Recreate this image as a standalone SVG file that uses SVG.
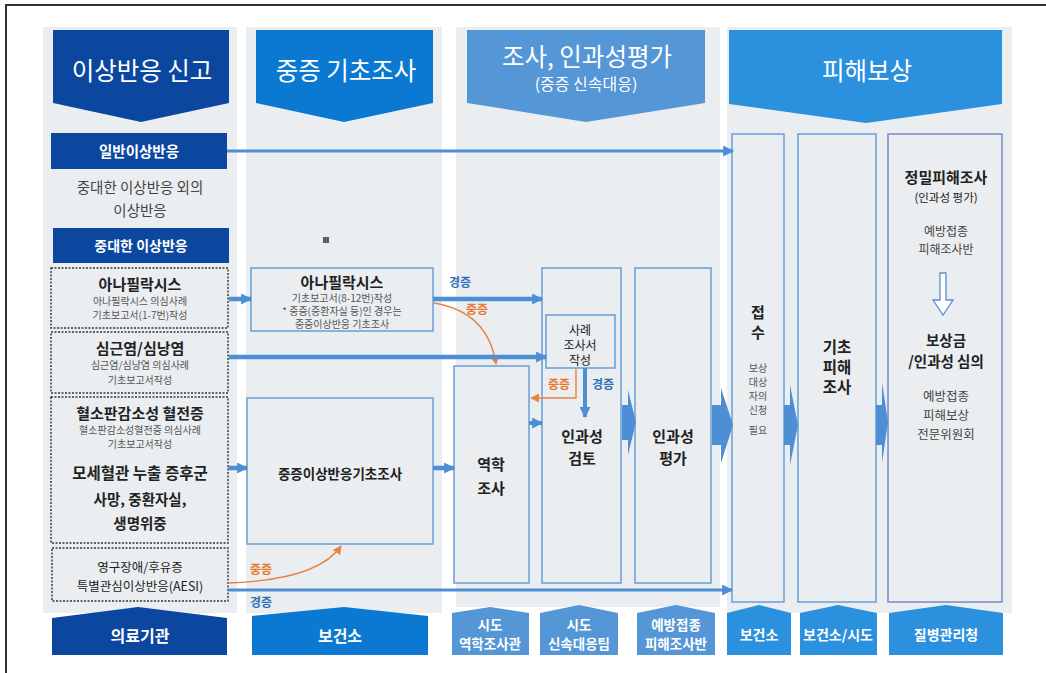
<svg xmlns="http://www.w3.org/2000/svg" width="1046" height="673" viewBox="0 0 1046 673">
<defs>
<style>
text{font-family:"Noto Sans CJK KR","Noto Sans",sans-serif;text-anchor:middle}
.bg{fill:#eaeef0}
.hd{fill:#fff;font-size:24.5px}
.ft{fill:#fff;font-weight:bold}
.bx{fill:#eaeef0;stroke:#6ea3d9;stroke-width:1.6}
.dt{fill:#eaeef0;stroke:#333;stroke-width:1.4;stroke-dasharray:2 1.5}
.b{font-weight:bold;fill:#222}
.s{fill:#555;font-size:10px}
.g{fill:#444}
.lb{fill:#2f6fba;font-weight:bold;font-size:12px}
.lo{fill:#e8762d;font-weight:bold;font-size:12px}
.ln{stroke:#4d8ed4;fill:none}
.or{stroke:#e8823f;fill:none;stroke-width:1.4}
.ch{fill:#4d8ed4}
</style>
<marker id="ab" viewBox="0 0 10 10" refX="9" refY="5" markerWidth="12" markerHeight="11" markerUnits="userSpaceOnUse" orient="auto"><path d="M0,0 L10,5 L0,10 z" fill="#4d8ed4"/></marker>
<marker id="ao" viewBox="0 0 10 10" refX="9" refY="5" markerWidth="9" markerHeight="9" markerUnits="userSpaceOnUse" orient="auto"><path d="M0,0 L10,5 L0,10 z" fill="#e8823f"/></marker>
</defs>
<rect width="1046" height="673" fill="#fff"/>
<path d="M6,673 V5 H1046" fill="none" stroke="#333" stroke-width="2"/>

<!-- column backgrounds -->
<rect class="bg" x="43" y="27" width="194" height="586"/>
<rect class="bg" x="246" y="27" width="196" height="586"/>
<rect class="bg" x="456" y="27" width="264" height="580"/>
<rect class="bg" x="727" y="27" width="285" height="586"/>

<!-- headers -->
<g id="hdr1"><polygon points="53,30 229,30 229,103 141,122 53,103" fill="#0c479f"/><text class="hd" x="142" y="80">이상반응 신고</text></g>
<g id="hdr2"><polygon points="256,30 433,30 433,103 344,122 256,103" fill="#0b78d1"/><text class="hd" x="346" y="80">중증 기초조사</text></g>
<g id="hdr3"><polygon points="467,30 705,30 705,103 586,122 467,103" fill="#5596d6"/><text class="hd" x="587" y="66">조사, 인과성평가</text><text x="586" y="90" fill="#fff" font-size="16">(중증 신속대응)</text></g>
<g id="hdr4"><polygon points="729,30 1002,30 1002,104 866,123 729,104" fill="#2b90dd"/><text class="hd" x="867" y="80">피해보상</text></g>

<!-- column 1 -->
<g id="n-general"><rect x="51" y="133" width="176" height="36" fill="#0c479f"/><text x="139" y="157" fill="#fff" font-weight="bold" font-size="14.5">일반이상반응</text></g>
<g id="n-nonserious"><text class="g" x="140" y="193" font-size="14.5">중대한 이상반응 외의</text><text class="g" x="140" y="216" font-size="14.5">이상반응</text></g>
<g id="n-serious"><rect x="53" y="228" width="176" height="35" fill="#0c479f"/><text x="141" y="251" fill="#fff" font-weight="bold" font-size="14">중대한 이상반응</text></g>
<g id="n-ana1"><rect class="dt" x="51" y="268" width="177" height="60"/><text class="b" x="140" y="290" font-size="15">아나필락시스</text><text class="s" x="140" y="305">아나필락시스 의심사례</text><text class="s" x="140" y="319">기초보고서(1-7번)작성</text></g>
<g id="n-myo"><rect class="dt" x="51" y="332" width="177" height="61"/><text class="b" x="140" y="354" font-size="15">심근염/심낭염</text><text class="s" x="140" y="369">심근염/심낭염 의심사례</text><text class="s" x="140" y="384">기초보고서작성</text></g>
<g id="n-tts"><rect class="dt" x="51" y="397" width="177" height="146"/><text class="b" x="140" y="419" font-size="15">혈소판감소성 혈전증</text><text class="s" x="140" y="434">혈소판감소성혈전증 의심사례</text><text class="s" x="140" y="448">기초보고서작성</text><text class="b" x="140" y="479" font-size="15.5">모세혈관 누출 증후군</text><text class="b" x="140" y="505" font-size="14.5">사망, 중환자실,</text><text class="b" x="140" y="529" font-size="14.5">생명위중</text></g>
<g id="n-aesi"><rect class="dt" x="52" y="548" width="176" height="53"/><text x="140" y="572" font-size="12.5" fill="#222">영구장애/후유증</text><text x="140" y="591" font-size="12.5" fill="#222">특별관심이상반응(AESI)</text></g>
<g id="f-1"><polygon points="52,655 52,618 138,607 227,618 227,655" fill="#0c479f"/><text class="ft" x="140" y="642" font-size="16">의료기관</text></g>

<!-- column 2 -->
<rect x="323" y="237" width="6" height="6" fill="#55606e"/>
<g id="n-ana2"><rect class="bx" x="251" y="268" width="182" height="63"/><text class="b" x="342" y="288" font-size="15">아나필락시스</text><text class="s" x="342" y="302">기초보고서(8-12번)작성</text><text class="s" x="342" y="315">* 중증(중환자실 등)인 경우는</text><text class="s" x="342" y="328">중증이상반응 기초조사</text></g>
<g id="n-basic"><rect class="bx" x="247" y="398" width="186" height="146"/><text class="b" x="340" y="479" font-size="13.5">중증이상반응기초조사</text></g>
<g id="f-2"><polygon points="252,655 252,616 344,607 428,616 428,655" fill="#0b78d1"/><text class="ft" x="340" y="642" font-size="16">보건소</text></g>

<!-- column 3 -->
<g id="n-epi"><rect class="bx" x="454" y="366" width="75" height="217"/><text class="b" x="491" y="470" font-size="15">역학</text><text class="b" x="491" y="494" font-size="15">조사</text></g>
<g id="n-review"><rect class="bx" x="542" y="268" width="79" height="315"/><text class="b" x="582" y="442" font-size="15">인과성</text><text class="b" x="582" y="464" font-size="15">검토</text></g>
<g id="n-case"><rect class="bx" x="546" y="315" width="69" height="53"/><text x="580" y="335" font-size="12" fill="#222">사례</text><text x="580" y="350" font-size="12" fill="#222">조사서</text><text x="580" y="365" font-size="12" fill="#222">작성</text></g>
<g id="n-eval"><rect class="bx" x="635" y="268" width="76" height="315"/><text class="b" x="673" y="442" font-size="15">인과성</text><text class="b" x="673" y="464" font-size="15">평가</text></g>
<g id="f-3a"><polygon points="452,655 452,613 490,607 529,613 529,655" fill="#5596d6"/><text class="ft" x="490" y="630" font-size="13.5">시도</text><text class="ft" x="490" y="649" font-size="13.5">역학조사관</text></g>
<g id="f-3b"><polygon points="540,655 540,613 579,605 618,613 618,655" fill="#5596d6"/><text class="ft" x="579" y="630" font-size="13.5">시도</text><text class="ft" x="579" y="649" font-size="13.5">신속대응팀</text></g>
<g id="f-3c"><polygon points="637,655 637,613 676,605 715,613 715,655" fill="#5596d6"/><text class="ft" x="676" y="630" font-size="13.5">예방접종</text><text class="ft" x="676" y="649" font-size="13.5">피해조사반</text></g>

<!-- column 4 -->
<g id="n-receipt"><rect class="bx" x="732" y="134" width="52" height="468"/><text class="b" x="758" y="318" font-size="15">접</text><text class="b" x="758" y="338" font-size="15">수</text><text class="s" x="758" y="372">보상</text><text class="s" x="758" y="386">대상</text><text class="s" x="758" y="400">자의</text><text class="s" x="758" y="414">신청</text><text class="s" x="758" y="434">필요</text></g>
<g id="n-basicdmg"><rect class="bx" x="798" y="134" width="78" height="468"/><text class="b" x="837" y="353" font-size="15.5">기초</text><text class="b" x="837" y="373" font-size="15.5">피해</text><text class="b" x="837" y="393" font-size="15.5">조사</text></g>
<g id="n-detail"><rect class="bx" x="888" y="134" width="114" height="468" style="stroke:#7a92cc"/><text class="b" x="946" y="183" font-size="15">정밀피해조사</text><text x="946" y="202" font-size="11.5" fill="#222">(인과성 평가)</text><text class="g" x="946" y="236" font-size="12">예방접종</text><text class="g" x="946" y="254" font-size="12">피해조사반</text><polygon points="940,273 946,273 946,300 953,300 943,315 933,300 940,300" fill="#fff" stroke="#5b8fd0" stroke-width="1.3"/><text class="b" x="946" y="346" font-size="14.5">보상금</text><text class="b" x="946" y="367" font-size="14.5">/인과성 심의</text><text class="g" x="946" y="401" font-size="12.5">예방접종</text><text class="g" x="946" y="420" font-size="12.5">피해보상</text><text class="g" x="946" y="439" font-size="12.5">전문위원회</text></g>
<g id="f-4a"><polygon points="727,655 727,613 759,605 791,613 791,655" fill="#2b90dd"/><text class="ft" x="759" y="640" font-size="14">보건소</text></g>
<g id="f-4b"><polygon points="800,655 800,613 838,605 877,613 877,655" fill="#2b90dd"/><text class="ft" x="838" y="640" font-size="14">보건소/시도</text></g>
<g id="f-4c"><polygon points="889,655 889,613 946,605 1003,613 1003,655" fill="#2b90dd"/><text class="ft" x="946" y="640" font-size="14">질병관리청</text></g>

<!-- connectors -->
<g id="connectors">
<line class="ln" x1="227" y1="151" x2="733" y2="151" stroke-width="3" marker-end="url(#ab)"/>
<line class="ln" x1="229" y1="299" x2="251" y2="299" stroke-width="4.5" marker-end="url(#ab)"/>
<line class="ln" x1="433" y1="299" x2="542" y2="299" stroke-width="4.5" marker-end="url(#ab)"/>
<path class="or" d="M434,303 Q488,312 496,364" marker-end="url(#ao)"/>
<line class="ln" x1="229" y1="357" x2="546" y2="357" stroke-width="4.5" marker-end="url(#ab)"/>
<path class="or" d="M576,368 V398 H531" marker-end="url(#ao)"/>
<line class="ln" x1="585" y1="368" x2="585" y2="417" stroke-width="4" marker-end="url(#ab)"/>
<line class="ln" x1="529" y1="423" x2="542" y2="423" stroke-width="4" marker-end="url(#ab)"/>
<line class="ln" x1="228" y1="468" x2="247" y2="468" stroke-width="4.5" marker-end="url(#ab)"/>
<line class="ln" x1="433" y1="468" x2="454" y2="468" stroke-width="4.5" marker-end="url(#ab)"/>
<path class="or" d="M228,583 Q318,580 341,546" marker-end="url(#ao)"/>
<line class="ln" x1="228" y1="590" x2="732" y2="590" stroke-width="3" marker-end="url(#ab)"/>
<polygon class="ch" points="622,405 628,405 628,390 636,422 628,455 628,440 622,440"/>
<polygon class="ch" points="712,405 721,405 721,388 733,425 721,463 721,445 712,445"/>
<polygon class="ch" points="784,405 790,405 790,385 798,425 790,465 790,445 784,445"/>
<polygon class="ch" points="876,405 882,405 882,382 888,422 882,463 882,445 876,445"/>
<text class="lb" x="460" y="287">경증</text>
<text class="lo" x="477" y="314">중증</text>
<text class="lo" x="559" y="389">중증</text>
<text class="lb" x="603" y="389">경증</text>
<text class="lo" x="261" y="574">중증</text>
<text class="lb" x="261" y="607">경증</text>
</g>
</svg>
